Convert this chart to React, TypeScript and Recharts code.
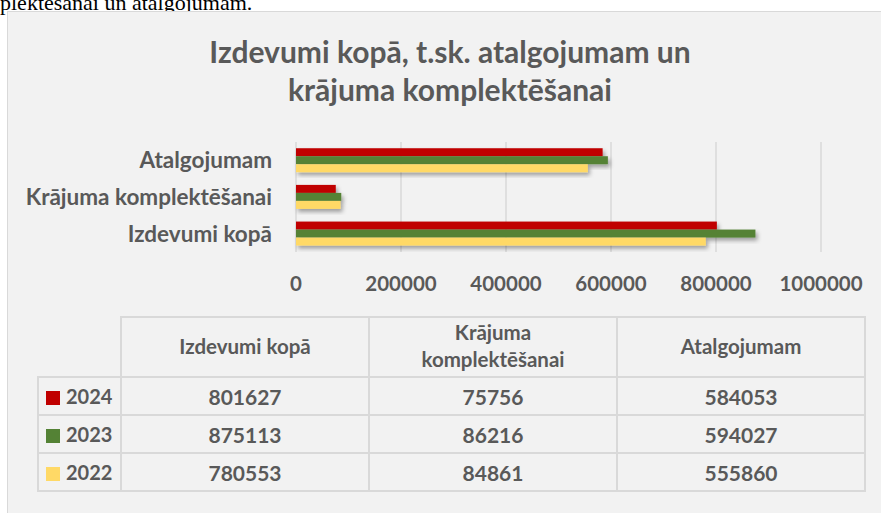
import React from 'react';
import { BarChart, Bar, XAxis, YAxis, CartesianGrid } from 'recharts';

const categories = ['Izdevumi kopā', 'Krājuma komplektēšanai', 'Atalgojumam'];
const tableHeads = ['Izdevumi kopā', 'Krājuma\nkomplektēšanai', 'Atalgojumam'];
const years = ['2024', '2023', '2022'];
const values2024 = [801627, 75756, 584053];
const values2023 = [875113, 86216, 594027];
const values2022 = [780553, 84861, 555860];
const xTicks = [0, 200000, 400000, 600000, 800000, 1000000];

const colors: Record<string, string> = {
  '2024': '#c00000',
  '2023': '#548235',
  '2022': '#ffd966',
};

const seriesByYear: Record<string, number[]> = {
  '2024': values2024,
  '2023': values2023,
  '2022': values2022,
};

// Excel draws the first category at the bottom
const rows = categories
  .map((name, i) => ({
    name,
    y2024: values2024[i],
    y2023: values2023[i],
    y2022: values2022[i],
  }))
  .reverse();

const FONT = 'Lato, "Open Sans", sans-serif';
const TXT = '#595959';
const LINE = '#d9d9d9';

const XTick = ({ x, y, payload }: any) => (
  <text x={x} y={y + 39} textAnchor="middle" fill={TXT} fontFamily={FONT} fontWeight={700} fontSize={20.5}>
    {payload.value}
  </text>
);

const YTick = ({ x, y, payload }: any) => (
  <text x={x} y={y + 8} textAnchor="end" fill={TXT} fontFamily={FONT} fontWeight={700} fontSize={22.5}>
    {payload.value}
  </text>
);

const ShadowBar = (props: any) => {
  const { x, y, width, height, fill } = props;
  if (!width || width <= 0) return null;
  return <rect x={x} y={y} width={width} height={height} fill={fill} filter="url(#barShadow)" />;
};

const cell: React.CSSProperties = {
  border: `2px solid ${LINE}`,
  textAlign: 'center',
  padding: 0,
  color: TXT,
  fontFamily: FONT,
  fontSize: 21,
};

export default function App() {
  return (
    <div style={{ position: 'absolute', left: 0, top: 0, width: 881, height: 513, overflow: 'hidden', background: '#fff' }}>
      <svg width={0} height={0} style={{ position: 'absolute' }}>
        <defs>
          <filter id="barShadow" x="-10%" y="-30%" width="130%" height="200%">
            <feDropShadow dx={2} dy={3} stdDeviation={2} floodColor="#000" floodOpacity={0.35} />
          </filter>
        </defs>
      </svg>
      <div
        style={{
          position: 'absolute',
          left: 0,
          top: -10,
          fontFamily: '"Liberation Serif", "Times New Roman", serif',
          fontSize: 22,
          whiteSpace: 'nowrap',
          color: '#000',
        }}
      >
        plektēšanai un atalgojumam.
      </div>
      <div
        style={{
          position: 'absolute',
          left: 7,
          top: 11,
          width: 880,
          height: 510,
          background: '#f2f2f2',
          border: `1.5px solid ${LINE}`,
        }}
      />
      <div
        style={{
          position: 'absolute',
          left: 7,
          top: 32,
          width: 886,
          textAlign: 'center',
          fontFamily: FONT,
          fontWeight: 700,
          fontSize: 30,
          lineHeight: '38px',
          color: TXT,
        }}
      >
        Izdevumi kopā, t.sk. atalgojumam un
        <br />
        krājuma komplektēšanai
      </div>
      <div style={{ position: 'absolute', left: 0, top: 0 }}>
        <BarChart
          width={881}
          height={300}
          data={rows}
          layout="vertical"
          margin={{ top: 142, right: 60, bottom: 0, left: 0 }}
          barCategoryGap="17%"
          barGap={0}
        >
          <CartesianGrid horizontal={false} stroke={LINE} strokeWidth={1.5} />
          <XAxis
            type="number"
            domain={[0, 1000000]}
            ticks={xTicks}
            axisLine={false}
            tickLine={false}
            tickSize={0}
            tickMargin={0}
            height={48}
            interval={0}
            tick={<XTick />}
          />
          <YAxis
            type="category"
            dataKey="name"
            width={296}
            axisLine={false}
            tickLine={false}
            tickSize={0}
            tickMargin={24}
            interval={0}
            tick={<YTick />}
          />
          {years.map((yr) => (
            <Bar key={yr} dataKey={`y${yr}`} fill={colors[yr]} isAnimationActive={false} shape={<ShadowBar />} />
          ))}
        </BarChart>
      </div>
      <table
        style={{
          position: 'absolute',
          left: 37,
          top: 316,
          width: 828,
          borderCollapse: 'collapse',
          tableLayout: 'fixed',
        }}
      >
        <colgroup>
          <col style={{ width: 83 }} />
          <col style={{ width: 248 }} />
          <col style={{ width: 248 }} />
          <col style={{ width: 248 }} />
        </colgroup>
        <tbody>
          <tr style={{ height: 60 }}>
            <td style={{ border: 'none' }} />
            {tableHeads.map((h) => (
              <td
                key={h}
                style={{ ...cell, fontSize: 20.5, fontWeight: 700, lineHeight: '27px', whiteSpace: 'pre-line', paddingBottom: 2 }}
              >
                {h}
              </td>
            ))}
          </tr>
          {years.map((yr) => (
            <tr key={yr} style={{ height: 38 }}>
              <td style={{ ...cell, textAlign: 'left', fontWeight: 700, paddingLeft: 7, fontSize: 20 }}>
                <span
                  style={{
                    display: 'inline-block',
                    width: 14,
                    height: 14,
                    background: colors[yr],
                    marginRight: 6,
                    verticalAlign: '-1px',
                  }}
                />
                {yr}
              </td>
              {seriesByYear[yr].map((v, i) => (
                <td key={i} style={{ ...cell, fontWeight: 700 }}>
                  {v}
                </td>
              ))}
            </tr>
          ))}
        </tbody>
      </table>
    </div>
  );
}
